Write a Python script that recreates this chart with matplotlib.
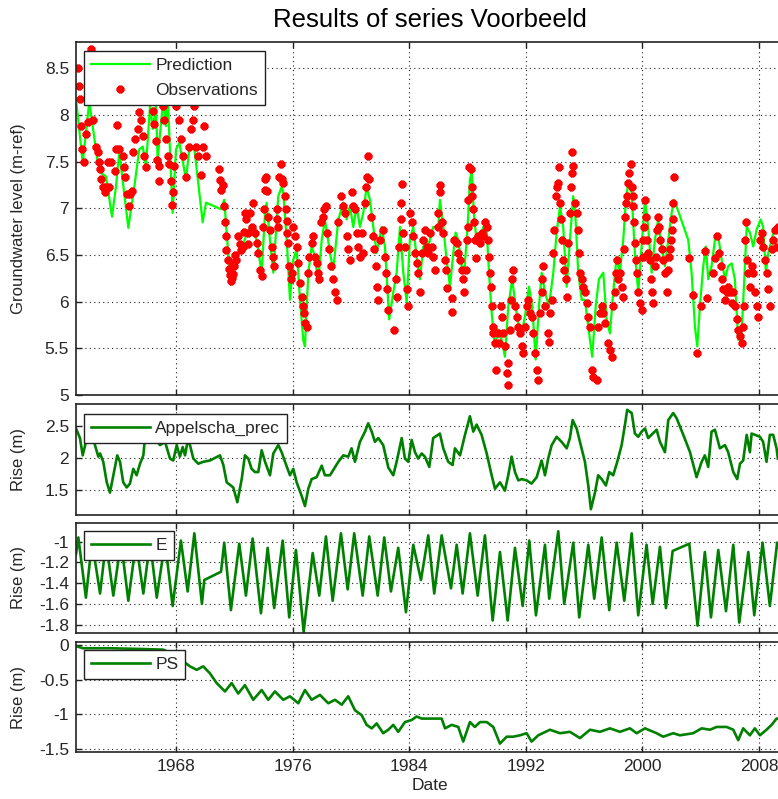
import matplotlib
matplotlib.use('Agg')
import matplotlib.pyplot as plt
from matplotlib.ticker import FormatStrFormatter

plt.rcParams['font.family'] = ['Liberation Sans', 'DejaVu Sans']

# model prediction of the groundwater level (decimal year, m-ref)
prediction = [
    (1961.14, 8.17), (1961.60, 7.49), (1962.05, 8.14), (1962.63, 7.49), (1962.85, 7.38), (1963.20, 7.34),
    (1963.61, 6.91), (1963.88, 7.23), (1964.11, 7.60), (1964.73, 6.79), (1965.14, 7.23), (1965.48, 7.63),
    (1965.72, 7.66), (1965.94, 7.45), (1966.22, 8.10), (1966.40, 7.85), (1966.63, 8.10), (1966.74, 7.52),
    (1967.13, 8.17), (1967.31, 7.88), (1967.43, 8.20), (1967.77, 6.95), (1968.00, 7.63), (1968.23, 7.70),
    (1968.69, 7.31), (1968.91, 7.63), (1969.26, 7.63), (1969.37, 7.49), (1969.60, 7.17), (1969.83, 6.85),
    (1970.06, 7.06), (1971.09, 6.99), (1971.31, 7.09), (1971.55, 6.59), (1971.77, 6.18), (1972.12, 6.45),
    (1972.46, 6.55), (1972.80, 6.70), (1973.08, 6.80), (1973.54, 6.66), (1973.88, 6.31), (1974.11, 6.95),
    (1974.22, 7.06), (1974.45, 6.66), (1974.68, 6.31), (1975.02, 7.13), (1975.25, 7.23), (1975.36, 7.17),
    (1975.60, 6.66), (1975.82, 6.02), (1976.05, 6.45), (1976.28, 6.56), (1976.51, 6.02), (1976.73, 5.59),
    (1976.85, 5.52), (1977.08, 6.31), (1977.31, 6.59), (1977.54, 6.48), (1977.76, 6.20), (1978.00, 6.66),
    (1978.22, 6.88), (1978.57, 6.52), (1978.79, 6.34), (1979.14, 6.88), (1979.48, 7.06), (1979.71, 6.88),
    (1979.94, 7.02), (1980.16, 6.80), (1980.40, 7.02), (1980.62, 6.80), (1980.85, 6.95), (1981.08, 7.23),
    (1981.31, 7.09), (1981.54, 6.80), (1981.77, 6.52), (1982.11, 6.80), (1982.34, 6.59), (1982.63, 5.81),
    (1982.91, 6.10), (1983.14, 6.31), (1983.37, 6.80), (1983.60, 6.31), (1983.83, 5.99), (1984.05, 6.66),
    (1984.28, 6.80), (1984.51, 6.48), (1984.74, 6.24), (1984.97, 6.59), (1985.20, 6.66), (1985.31, 6.59),
    (1985.65, 6.80), (1986.00, 6.80), (1986.11, 7.09), (1986.34, 6.80), (1986.57, 6.45), (1986.80, 6.16),
    (1987.03, 6.52), (1987.19, 6.74), (1987.37, 6.66), (1987.60, 6.38), (1987.78, 6.31), (1988.01, 6.80),
    (1988.17, 7.31), (1988.29, 7.38), (1988.47, 6.88), (1988.63, 6.66), (1988.86, 6.59), (1989.08, 6.80),
    (1989.32, 6.77), (1989.48, 6.31), (1989.66, 5.88), (1989.89, 5.52), (1990.11, 5.70), (1990.35, 5.59),
    (1990.57, 5.41), (1990.80, 5.95), (1991.07, 6.24), (1991.31, 5.95), (1991.48, 5.77), (1991.72, 5.66),
    (1991.94, 5.84), (1992.22, 6.16), (1992.45, 5.95), (1992.68, 5.38), (1992.91, 5.95), (1993.09, 6.31),
    (1993.32, 6.10), (1993.59, 5.95), (1993.89, 6.31), (1994.12, 6.74), (1994.35, 7.02), (1994.57, 6.80),
    (1994.81, 6.16), (1995.03, 6.66), (1995.26, 7.13), (1995.42, 6.88), (1995.60, 6.31), (1995.84, 6.02),
    (1996.06, 6.02), (1996.29, 5.73), (1996.56, 5.41), (1996.80, 5.95), (1997.02, 6.24), (1997.32, 6.31),
    (1997.55, 5.81), (1997.78, 5.66), (1998.00, 6.10), (1998.24, 6.48), (1998.46, 6.31), (1998.69, 6.66),
    (1998.87, 7.09), (1999.03, 7.27), (1999.26, 7.17), (1999.49, 6.52), (1999.72, 6.10), (1999.95, 6.59),
    (2000.18, 7.09), (2000.40, 6.80), (2000.64, 6.31), (2000.86, 6.66), (2001.09, 6.88), (2001.32, 6.59),
    (2001.55, 6.38), (2001.78, 6.66), (2002.01, 6.95), (2002.17, 7.09), (2002.35, 7.02), (2003.15, 6.66),
    (2003.38, 6.31), (2003.61, 5.73), (2003.77, 5.52), (2003.95, 5.95), (2004.18, 6.38), (2004.36, 6.59),
    (2004.52, 6.24), (2004.75, 6.38), (2004.98, 6.66), (2005.21, 6.70), (2005.44, 6.45), (2005.67, 6.24),
    (2005.89, 6.38), (2006.13, 6.41), (2006.35, 6.24), (2006.58, 5.59), (2006.81, 5.66), (2006.97, 6.16),
    (2007.16, 6.80), (2007.38, 6.74), (2007.61, 6.59), (2007.84, 6.77), (2008.12, 6.88), (2008.29, 6.80),
    (2008.48, 6.31), (2008.64, 6.52), (2008.87, 6.66), (2009.10, 6.80), (2009.30, 6.74),
]

# observed heads (decimal year, m-ref)
observations = [
    (1961.26, 8.50), (1961.33, 8.31), (1961.41, 8.17), (1961.48, 7.88), (1961.55, 7.63), (1961.71, 7.49),
    (1961.82, 7.79), (1961.94, 7.92), (1962.17, 8.70), (1962.28, 7.95), (1962.51, 7.66), (1962.63, 7.60),
    (1962.74, 7.49), (1962.79, 7.42), (1962.85, 7.31), (1962.97, 7.23), (1963.15, 7.17), (1963.20, 7.23),
    (1963.31, 7.50), (1963.42, 7.23), (1963.54, 7.50), (1963.84, 7.40), (1963.88, 7.63), (1963.95, 7.89),
    (1964.11, 7.63), (1964.34, 7.56), (1964.45, 7.44), (1964.52, 7.33), (1964.62, 7.15), (1964.76, 7.02),
    (1964.84, 7.15), (1964.98, 7.18), (1965.07, 7.60), (1965.21, 7.74), (1965.37, 7.85), (1965.44, 8.03),
    (1965.60, 7.95), (1965.72, 7.77), (1965.83, 7.56), (1965.94, 7.44), (1966.40, 8.19), (1966.44, 8.04),
    (1966.51, 7.90), (1966.63, 7.72), (1966.68, 7.52), (1966.81, 7.45), (1966.85, 7.29), (1967.09, 8.10),
    (1967.20, 7.95), (1967.31, 7.74), (1967.43, 7.56), (1967.54, 7.47), (1967.66, 7.29), (1967.77, 7.17),
    (1967.73, 7.04), (1967.88, 7.45), (1968.00, 8.10), (1968.23, 7.95), (1968.34, 7.74), (1968.46, 7.56),
    (1968.69, 7.34), (1968.91, 7.66), (1969.03, 7.85), (1969.15, 7.95), (1969.26, 8.10), (1969.37, 7.66),
    (1969.49, 7.56), (1969.72, 7.36), (1969.83, 7.66), (1969.94, 7.88), (1970.06, 7.56),
    (1970.97, 7.42), (1971.04, 7.30), (1971.11, 7.20), (1971.22, 7.25), (1971.31, 7.02), (1971.34, 6.85),
    (1971.40, 6.70), (1971.45, 6.55), (1971.55, 6.45), (1971.62, 6.35), (1971.68, 6.28), (1971.75, 6.22),
    (1971.82, 6.25), (1971.89, 6.30), (1971.93, 6.40), (1972.00, 6.38), (1972.07, 6.50), (1972.15, 6.45),
    (1972.25, 6.70), (1972.39, 6.62), (1972.49, 6.55), (1972.60, 6.59), (1972.67, 6.75), (1972.73, 6.95),
    (1972.80, 6.88), (1972.91, 6.62), (1972.97, 6.74),
    (1973.08, 6.95), (1973.19, 6.80), (1973.30, 7.06), (1973.42, 6.74), (1973.54, 6.63), (1973.65, 6.52),
    (1973.76, 6.34), (1973.88, 6.27), (1973.95, 6.80), (1974.04, 6.99), (1974.11, 7.20), (1974.14, 7.31),
    (1974.17, 7.34), (1974.26, 7.18), (1974.33, 6.91), (1974.45, 6.77), (1974.57, 6.59), (1974.68, 6.48),
    (1974.72, 6.38), (1974.91, 6.88), (1974.95, 6.99), (1975.02, 6.80), (1975.09, 7.34), (1975.18, 7.47),
    (1975.29, 7.31), (1975.36, 7.27), (1975.48, 7.13), (1975.55, 6.99), (1975.60, 6.86), (1975.64, 6.74),
    (1975.71, 6.63), (1975.78, 6.38), (1975.87, 6.24), (1975.94, 6.31), (1976.05, 6.80), (1976.16, 6.70),
    (1976.28, 6.59), (1976.39, 6.41), (1976.51, 6.20), (1976.62, 6.05), (1976.69, 5.95), (1976.78, 5.88),
    (1976.85, 5.77), (1976.97, 5.73), (1977.08, 6.31), (1977.15, 6.48), (1977.31, 6.63), (1977.42, 6.70),
    (1977.54, 6.48), (1977.65, 6.41), (1977.76, 6.31), (1977.83, 6.24), (1977.93, 6.85), (1978.07, 6.91),
    (1978.16, 6.99), (1978.29, 7.02), (1978.38, 6.74), (1978.52, 6.56), (1978.63, 6.38), (1978.75, 6.24),
    (1978.91, 6.10), (1979.03, 6.02), (1979.14, 6.85), (1979.30, 7.13), (1979.44, 7.02), (1979.60, 6.95),
    (1979.71, 6.70), (1979.82, 6.56), (1979.94, 6.45), (1980.05, 7.17), (1980.16, 7.02), (1980.28, 6.99),
    (1980.40, 6.74), (1980.51, 6.59), (1980.62, 6.48), (1980.74, 6.74), (1980.85, 6.52), (1980.97, 7.06),
    (1981.04, 7.23), (1981.13, 7.34), (1981.19, 7.56), (1981.26, 7.31), (1981.36, 6.91), (1981.49, 6.70),
    (1981.58, 6.56), (1981.70, 6.38), (1981.77, 6.16), (1981.84, 6.02), (1982.00, 6.66), (1982.18, 6.77),
    (1982.34, 6.48), (1982.41, 6.31), (1982.46, 6.13), (1982.57, 5.91), (1982.96, 5.70), (1983.09, 6.24),
    (1983.18, 6.05), (1983.32, 6.59), (1983.42, 6.88), (1983.44, 7.06), (1983.49, 7.26), (1983.60, 6.74),
    (1983.71, 6.59), (1983.83, 6.13), (1983.94, 5.95), (1984.05, 6.95), (1984.17, 6.85), (1984.28, 6.70),
    (1984.40, 6.52), (1984.51, 6.41), (1984.62, 6.31), (1984.74, 6.10), (1984.86, 6.52), (1984.97, 6.66),
    (1985.08, 6.77), (1985.20, 6.59),
    (1985.31, 6.52), (1985.43, 6.74), (1985.54, 6.59), (1985.65, 6.48), (1985.77, 6.34), (1985.95, 6.80),
    (1985.99, 6.95), (1986.11, 7.17), (1986.14, 7.25), (1986.23, 6.85), (1986.34, 6.74), (1986.46, 6.45),
    (1986.50, 6.34), (1986.57, 6.15), (1986.92, 6.04), (1986.96, 5.89), (1987.10, 6.66), (1987.26, 6.63),
    (1987.37, 6.52), (1987.49, 6.45), (1987.60, 6.34), (1987.72, 6.24), (1987.78, 6.10), (1987.88, 6.34),
    (1987.95, 6.66), (1988.01, 6.80), (1988.06, 7.09), (1988.12, 7.44), (1988.24, 7.42), (1988.29, 7.23),
    (1988.33, 7.13), (1988.40, 6.99), (1988.47, 6.85), (1988.51, 6.66), (1988.56, 6.47), (1988.74, 6.70),
    (1988.86, 6.63), (1988.97, 6.74), (1989.09, 6.70), (1989.20, 6.85), (1989.32, 6.80), (1989.38, 6.66),
    (1989.47, 6.48), (1989.54, 6.31), (1989.61, 6.16), (1989.66, 5.95), (1989.73, 5.73), (1989.77, 5.66),
    (1989.89, 5.56), (1989.94, 5.27), (1990.08, 5.66), (1990.16, 5.56), (1990.30, 5.95), (1990.39, 5.84),
    (1990.46, 5.66), (1990.57, 5.52), (1990.69, 5.24), (1990.76, 5.11), (1990.80, 5.34), (1990.92, 5.70),
    (1990.98, 6.02), (1991.07, 6.24), (1991.14, 6.34), (1991.26, 5.95), (1991.37, 5.84), (1991.48, 5.73),
    (1991.60, 5.66), (1991.72, 5.52), (1991.83, 5.45), (1991.94, 5.73), (1992.06, 5.95), (1992.17, 6.02),
    (1992.29, 5.88), (1992.40, 5.84), (1992.52, 5.66), (1992.63, 5.45), (1992.75, 5.27), (1992.86, 5.16),
    (1992.97, 5.88), (1993.09, 6.10), (1993.13, 6.24), (1993.20, 6.38), (1993.32, 5.95), (1993.50, 5.66),
    (1993.59, 5.57), (1993.66, 5.88), (1993.78, 6.02), (1993.89, 6.52), (1993.96, 6.77), (1994.05, 7.13),
    (1994.12, 7.23), (1994.23, 7.27), (1994.30, 7.44), (1994.35, 7.06), (1994.41, 6.88), (1994.50, 6.66),
    (1994.57, 6.45), (1994.64, 6.34), (1994.74, 6.24), (1994.81, 6.05), (1994.92, 6.63), (1995.03, 6.95),
    (1995.10, 7.23), (1995.15, 7.38), (1995.19, 7.60), (1995.26, 7.45), (1995.38, 7.06), (1995.49, 6.95),
    (1995.60, 6.77), (1995.65, 6.52), (1995.72, 6.31), (1995.84, 6.24), (1995.95, 6.16), (1996.06, 6.10),
    (1996.18, 5.99), (1996.29, 5.84), (1996.41, 5.73), (1996.52, 5.27), (1996.63, 5.19), (1996.86, 5.16),
    (1996.97, 5.73), (1997.09, 5.88), (1997.21, 5.95),
    (1997.32, 5.88), (1997.43, 5.77), (1997.66, 5.56), (1997.78, 5.48), (1997.89, 5.41), (1998.00, 5.95),
    (1998.12, 6.10), (1998.19, 6.31), (1998.28, 6.45), (1998.35, 6.24), (1998.46, 6.31), (1998.58, 6.16),
    (1998.69, 6.05), (1998.74, 6.56), (1998.81, 6.91), (1998.87, 7.06), (1998.92, 7.13), (1999.03, 7.27),
    (1999.10, 7.38), (1999.19, 7.47), (1999.26, 7.23), (1999.33, 7.13), (1999.37, 7.02), (1999.42, 6.85),
    (1999.49, 6.63), (1999.56, 6.45), (1999.61, 6.31), (1999.72, 6.10), (1999.84, 5.99), (1999.95, 5.91),
    (2000.02, 6.48), (2000.06, 6.66), (2000.11, 6.80), (2000.18, 7.09), (2000.25, 6.91), (2000.34, 6.66),
    (2000.40, 6.52), (2000.52, 6.45), (2000.57, 6.24), (2000.64, 6.10), (2000.71, 5.99), (2000.86, 6.38),
    (2000.93, 6.48), (2001.02, 6.77), (2001.09, 6.91), (2001.16, 6.80), (2001.21, 6.66), (2001.32, 6.56),
    (2001.43, 6.45), (2001.55, 6.31), (2001.67, 6.10), (2001.74, 6.34), (2001.83, 6.48), (2001.89, 6.56),
    (2001.94, 6.66), (2002.01, 6.77), (2002.08, 6.88), (2002.12, 7.06), (2002.17, 7.34), (2003.22, 6.47),
    (2003.45, 6.07), (2003.77, 5.45), (2004.00, 5.95), (2004.29, 6.54), (2004.45, 6.04), (2004.82, 6.31),
    (2004.98, 6.47), (2005.14, 6.70), (2005.28, 6.52), (2005.37, 6.38), (2005.44, 6.24), (2005.56, 6.13),
    (2005.67, 6.02), (2005.78, 6.10), (2005.89, 6.16), (2006.01, 6.10), (2006.13, 5.99), (2006.24, 6.10),
    (2006.35, 5.95), (2006.47, 5.81), (2006.58, 5.70), (2006.69, 5.63), (2006.81, 5.56), (2006.92, 5.73),
    (2006.99, 5.95), (2007.06, 6.66), (2007.11, 6.85), (2007.20, 6.45), (2007.27, 6.31), (2007.38, 6.16),
    (2007.50, 6.38), (2007.61, 6.31), (2007.72, 6.10), (2007.84, 5.95), (2007.95, 5.84), (2008.07, 6.66),
    (2008.18, 6.74), (2008.29, 6.59), (2008.41, 6.45), (2008.52, 6.31), (2008.64, 6.13), (2008.75, 5.95),
    (2008.87, 6.56), (2008.98, 6.66), (2009.10, 6.77), (2009.21, 6.59), (2009.30, 6.80),
]

# contribution of precipitation (m)
appelscha_prec = [
    (1961.14, 2.46), (1961.41, 2.31), (1961.60, 2.04), (1961.82, 2.25), (1962.10, 2.47), (1962.44, 2.20),
    (1962.67, 2.02), (1962.79, 2.07), (1963.01, 1.94), (1963.25, 1.62), (1963.47, 1.46), (1963.70, 1.73),
    (1963.97, 2.04), (1964.16, 1.94), (1964.38, 1.62), (1964.62, 1.54), (1964.84, 1.60), (1965.07, 1.83),
    (1965.30, 1.73), (1965.53, 1.91), (1965.76, 2.04), (1965.87, 2.31), (1966.35, 2.40), (1966.90, 2.20),
    (1967.25, 2.25), (1967.59, 1.99), (1967.81, 1.96), (1968.05, 2.20), (1968.27, 2.02), (1968.46, 2.17),
    (1968.62, 2.04), (1968.84, 2.31), (1969.19, 1.99), (1969.53, 1.91), (1969.87, 1.94), (1970.33, 1.96),
    (1971.02, 2.04), (1971.25, 1.89), (1971.48, 1.62), (1971.93, 1.54), (1972.21, 1.31), (1972.51, 1.67),
    (1972.73, 2.04), (1972.96, 1.99), (1973.19, 1.83), (1973.42, 1.78), (1973.65, 1.78), (1973.88, 2.12),
    (1974.11, 1.94), (1974.45, 1.73), (1974.68, 2.07), (1975.02, 2.20), (1975.25, 2.09), (1975.48, 1.94),
    (1975.82, 1.73), (1976.05, 1.83), (1976.28, 1.62), (1976.62, 1.41), (1976.85, 1.25), (1977.08, 1.52),
    (1977.31, 1.67), (1977.65, 1.70), (1978.00, 1.88), (1978.22, 1.73), (1978.57, 1.73), (1978.79, 1.81),
    (1979.14, 1.94), (1979.48, 2.04), (1979.82, 2.02), (1980.05, 2.15), (1980.28, 1.94), (1980.62, 2.25),
    (1980.97, 2.41), (1981.19, 2.54), (1981.43, 2.41), (1981.65, 2.25), (1981.88, 2.31), (1982.22, 2.20),
    (1982.57, 1.85), (1982.91, 1.73), (1983.14, 1.94), (1983.49, 2.31), (1983.71, 1.99), (1983.94, 1.94),
    (1984.17, 2.28), (1984.40, 2.09), (1984.62, 1.99), (1984.86, 2.07), (1985.08, 2.02), (1985.38, 1.86),
    (1985.65, 2.31), (1986.11, 2.38), (1986.34, 2.15), (1986.68, 1.94), (1986.98, 1.89), (1987.14, 2.15),
    (1987.49, 2.04), (1987.83, 2.36), (1988.17, 2.65), (1988.40, 2.41), (1988.63, 2.52), (1988.97, 2.36),
    (1989.32, 2.07), (1989.66, 1.73), (1989.89, 1.52), (1990.23, 1.62), (1990.57, 1.49), (1990.80, 1.73),
    (1991.03, 2.02), (1991.26, 1.78), (1991.49, 1.65), (1991.72, 1.67), (1992.06, 1.65), (1992.40, 1.60),
    (1992.75, 1.70), (1993.09, 1.96), (1993.32, 1.73), (1993.54, 1.99), (1993.78, 2.20), (1994.12, 2.33),
    (1994.46, 2.25), (1994.81, 2.15), (1995.03, 2.31), (1995.22, 2.59), (1995.49, 2.46), (1995.72, 2.25),
    (1996.06, 1.94), (1996.29, 1.57), (1996.47, 1.20), (1996.75, 1.46), (1996.97, 1.73), (1997.21, 1.67),
    (1997.50, 1.57), (1997.73, 1.78), (1998.00, 1.73), (1998.28, 1.94), (1998.58, 2.20), (1998.81, 2.52),
    (1998.96, 2.75), (1999.27, 2.70), (1999.49, 2.38), (1999.72, 2.33), (1999.95, 2.41), (2000.18, 2.46),
    (2000.40, 2.31), (2000.71, 2.38), (2000.98, 2.44), (2001.21, 2.25), (2001.55, 2.09), (2001.78, 2.59),
    (2002.12, 2.70), (2002.35, 2.62), (2002.81, 2.36), (2003.27, 2.09), (2003.72, 1.70), (2004.07, 1.94),
    (2004.29, 2.04), (2004.52, 1.86), (2004.75, 2.41), (2004.98, 2.44), (2005.32, 2.15), (2005.67, 2.20),
    (2005.89, 2.09), (2006.24, 1.78), (2006.51, 1.67), (2006.70, 1.91), (2006.92, 1.96), (2007.16, 2.36),
    (2007.38, 2.09), (2007.50, 2.38), (2007.72, 2.36), (2008.07, 2.33), (2008.29, 2.25), (2008.52, 1.94),
    (2008.75, 2.36), (2008.98, 2.36), (2009.21, 2.15), (2009.30, 1.99),
]

# contribution of evaporation (m)
evap = [
    (1961.14, -1.12), (1961.30, -0.96), (1961.82, -1.54), (1962.24, -1.00), (1962.79, -1.50), (1963.20, -1.00),
    (1963.70, -1.52), (1964.23, -1.00), (1964.73, -1.57), (1965.26, -1.00), (1965.76, -1.50), (1966.22, -1.00),
    (1966.68, -1.54), (1967.25, -1.00), (1967.77, -1.62), (1968.34, -0.99), (1968.80, -1.48), (1969.26, -0.92),
    (1969.78, -1.60), (1969.94, -1.37), (1971.09, -1.29), (1971.31, -1.01), (1971.77, -1.66), (1972.34, -1.02),
    (1972.80, -1.52), (1973.26, -0.97), (1973.83, -1.69), (1974.29, -1.06), (1974.74, -1.64), (1975.32, -0.99),
    (1975.77, -1.73), (1976.23, -1.08), (1976.76, -1.87), (1977.38, -1.11), (1977.83, -1.52), (1978.29, -0.95),
    (1978.75, -1.57), (1979.32, -0.92), (1979.78, -1.46), (1980.23, -0.92), (1980.81, -1.52), (1981.26, -0.95),
    (1981.84, -1.52), (1982.29, -0.96), (1982.75, -1.48), (1983.25, -1.06), (1983.78, -1.68), (1984.28, -1.03),
    (1984.81, -1.37), (1985.31, -0.94), (1985.72, -1.50), (1986.23, -0.94), (1986.87, -1.45), (1987.26, -1.03),
    (1987.67, -1.50), (1988.17, -0.92), (1988.70, -1.52), (1989.20, -0.94), (1989.73, -1.76), (1990.23, -1.10),
    (1990.76, -1.76), (1991.26, -1.06), (1991.79, -1.62), (1992.24, -0.99), (1992.70, -1.71), (1993.32, -1.03),
    (1993.61, -1.55), (1994.23, -0.90), (1994.64, -1.60), (1995.26, -1.01), (1995.67, -1.73), (1996.29, -1.03),
    (1996.70, -1.55), (1997.21, -0.96), (1997.73, -1.66), (1998.24, -1.01), (1998.76, -1.57), (1999.27, -0.92),
    (1999.72, -1.71), (2000.29, -1.03), (2000.71, -1.60), (2001.21, -1.05), (2001.62, -1.64), (2002.08, -1.09),
    (2003.22, -1.02), (2003.79, -1.81), (2004.29, -1.10), (2004.71, -1.73), (2005.21, -1.08), (2005.74, -1.67),
    (2006.24, -1.03), (2006.65, -1.78), (2007.27, -1.10), (2007.68, -1.71), (2008.25, -1.01), (2008.75, -1.62),
    (2009.25, -1.01), (2009.30, -1.05),
]

# contribution of the pumping station (m)
pumping = [
    (1961.14, -0.02), (1961.64, -0.05), (1963.47, -0.05), (1965.53, -0.06), (1967.13, -0.07), (1967.93, -0.15),
    (1968.96, -0.31), (1969.42, -0.36), (1969.87, -0.31), (1970.33, -0.41), (1970.79, -0.55), (1971.36, -0.67),
    (1971.82, -0.55), (1972.27, -0.70), (1972.73, -0.58), (1973.30, -0.79), (1973.88, -0.65), (1974.33, -0.79),
    (1974.79, -0.67), (1975.36, -0.79), (1975.82, -0.74), (1976.39, -0.84), (1976.85, -0.65), (1977.31, -0.79),
    (1977.88, -0.72), (1978.45, -0.84), (1978.91, -0.79), (1979.37, -0.86), (1979.82, -0.74), (1980.28, -0.94),
    (1980.74, -1.01), (1981.08, -1.15), (1981.43, -1.20), (1981.77, -1.13), (1982.22, -1.27), (1982.57, -1.22),
    (1982.91, -1.15), (1983.25, -1.25), (1983.71, -1.11), (1984.17, -1.08), (1984.51, -1.03), (1984.86, -1.06),
    (1985.65, -1.06), (1986.23, -1.06), (1986.46, -1.20), (1986.92, -1.15), (1987.37, -1.18), (1987.71, -1.39),
    (1988.17, -1.11), (1988.51, -1.18), (1988.86, -1.11), (1989.32, -1.11), (1989.77, -1.18), (1990.23, -1.42),
    (1990.69, -1.32), (1991.14, -1.32), (1991.60, -1.30), (1992.06, -1.27), (1992.40, -1.39), (1992.86, -1.30),
    (1993.66, -1.22), (1994.35, -1.27), (1995.03, -1.25), (1995.72, -1.34), (1996.41, -1.22), (1997.09, -1.25),
    (1997.78, -1.20), (1998.46, -1.25), (1999.15, -1.20), (1999.61, -1.27), (2000.18, -1.20), (2000.98, -1.27),
    (2001.43, -1.32), (2002.12, -1.27), (2002.58, -1.30), (2003.49, -1.27), (2004.07, -1.20), (2004.64, -1.22),
    (2005.10, -1.18), (2005.78, -1.18), (2006.24, -1.22), (2006.58, -1.37), (2006.92, -1.20), (2007.38, -1.30),
    (2007.72, -1.20), (2008.07, -1.30), (2008.52, -1.22), (2008.87, -1.15), (2009.21, -1.06), (2009.30, -1.06),
]

year_ticks = [1968, 1976, 1984, 1992, 2000, 2008]
x_range = (1961.14, 2009.72)

fig = plt.figure(figsize=(7.78, 7.99), dpi=100)

# axes boxes [left, bottom, width, height]; the right edge runs just past the figure
left, width = 0.0977, 0.910
ax_main = fig.add_axes([left, 0.5056, width, 0.4418])
ax_prec = fig.add_axes([left, 0.3554, width, 0.1389])
ax_evap = fig.add_axes([left, 0.2078, width, 0.1377])
ax_ps = fig.add_axes([left, 0.0588, width, 0.1377])

dark_green = '#008000'
txt = '#262626'


def unzip(pairs):
    return [p[0] for p in pairs], [p[1] for p in pairs]


px, py = unzip(prediction)
ox, oy = unzip(observations)
ax_main.plot(px, py, color='#00ff00', lw=1.6, label='Prediction')
ax_main.plot(ox, oy, ls='none', marker=(8, 2, 0), ms=5.5, mew=2.2, color='#ff0000', label='Observations')
ax_main.set_ylim(5, 8.78)
ax_main.set_yticks([5, 5.5, 6, 6.5, 7, 7.5, 8, 8.5])
ax_main.set_ylabel('Groundwater level (m-ref)')
ax_main.set_title('Results of series Voorbeeld', fontsize=18.5, pad=11)

lx, ly = unzip(appelscha_prec)
ax_prec.plot(lx, ly, color=dark_green, lw=1.9, label='Appelscha_prec')
ax_prec.set_ylim(1.11, 2.84)
ax_prec.set_yticks([1.5, 2, 2.5])

ex, ey = unzip(evap)
ax_evap.plot(ex, ey, color=dark_green, lw=1.9, label='E')
ax_evap.set_ylim(-1.88, -0.82)
ax_evap.set_yticks([-1.8, -1.6, -1.4, -1.2, -1])

sx, sy = unzip(pumping)
ax_ps.plot(sx, sy, color=dark_green, lw=1.9, label='PS')
ax_ps.set_ylim(-1.54, 0.04)
ax_ps.set_yticks([-1.5, -1, -0.5, 0])
ax_ps.set_xlabel('Date', labelpad=3)

legend_tops = {ax_main: 0.9745, ax_prec: 0.91, ax_evap: 0.927, ax_ps: 0.927}

for ax in [ax_main, ax_prec, ax_evap, ax_ps]:
    ax.set_xlim(*x_range)
    ax.set_xticks(year_ticks)
    ax.xaxis.set_major_formatter(FormatStrFormatter('%d'))
    ax.yaxis.set_major_formatter(FormatStrFormatter('%g'))
    ax.grid(True, color='#222222', ls=(0, (1, 3)), lw=0.8)
    ax.tick_params(direction='in', length=4, width=1, top=True, right=True,
                   labelsize=12.5, pad=5, colors='#222222', labelcolor=txt)
    for sp in ax.spines.values():
        sp.set_linewidth(1.2)
        sp.set_color('#222222')
    if ax is not ax_main:
        ax.set_ylabel('Rise (m)')
    ax.yaxis.label.set_size(12)
    ax.yaxis.label.set_color(txt)
    ax.yaxis.set_label_coords(-0.0706, 0.5)
    if ax is not ax_ps:
        ax.tick_params(labelbottom=False)
    leg = ax.legend(loc='upper left', bbox_to_anchor=(0.0113, legend_tops[ax]),
                    borderaxespad=0, fontsize=12.5, handlelength=3.4, handletextpad=0.3,
                    borderpad=0.4, labelspacing=0.55, fancybox=False, framealpha=1,
                    edgecolor='#222222', numpoints=1)
    leg.get_frame().set_linewidth(1.0)
    for t in leg.get_texts():
        t.set_color(txt)

ax_ps.xaxis.label.set_size(12.5)
ax_ps.xaxis.label.set_color(txt)

fig.savefig('out.png', dpi=100)
